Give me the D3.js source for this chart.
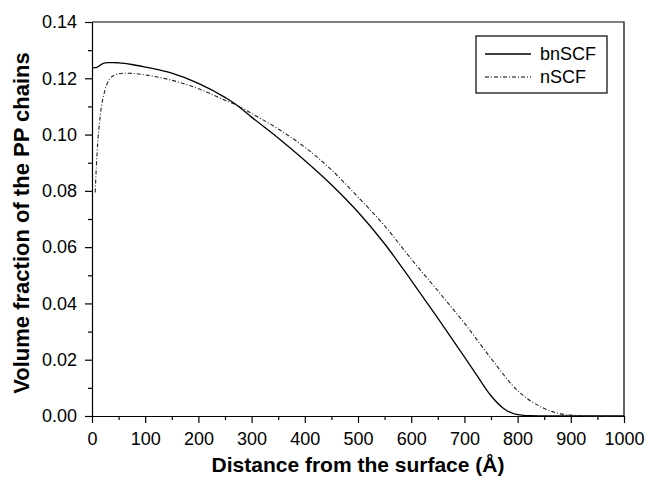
<!DOCTYPE html>
<html lang="en">
<head>
    <meta charset="UTF-8"/>
    <title>Volume fraction of the PP chains</title>
    <script src="https://d3js.org/d3.v7.min.js"></script>
    <style>
        body { margin: 0; background: #fff; }
        text { font-family: "Liberation Sans", Arial, sans-serif; }
    </style>
</head>
<body>
    <script>
        //chart values
        var bnX = [0, 5, 10, 15, 20, 25, 30, 40, 50, 75, 100, 150, 200, 250, 270, 300, 350, 400, 450, 500, 550, 600, 650, 700, 725, 750, 775, 800, 825, 850, 900, 950, 1000];
        var bnY = [0.1238, 0.1238, 0.1240, 0.1246, 0.1252, 0.1255, 0.1256, 0.1256, 0.1255, 0.1249, 0.1240, 0.1218, 0.1182, 0.1132, 0.1108, 0.1062, 0.0988, 0.0908, 0.0822, 0.0725, 0.0612, 0.0482, 0.0348, 0.0210, 0.0140, 0.0072, 0.0025, 0.0005, 0.0001, 0, 0, 0, 0];

        var nX = [6, 8, 11, 14, 17.5, 24, 33, 46, 62, 80, 100, 150, 200, 250, 270, 300, 350, 400, 450, 500, 550, 600, 650, 700, 750, 800, 850, 900, 950, 1000];
        var nY = [0.0794, 0.0880, 0.0977, 0.1040, 0.1096, 0.1155, 0.1197, 0.1214, 0.1218, 0.1217, 0.1212, 0.1193, 0.1163, 0.1122, 0.1106, 0.1075, 0.1020, 0.0955, 0.0875, 0.0778, 0.0676, 0.0558, 0.0445, 0.0330, 0.0205, 0.0090, 0.0027, 0.0003, 0, 0];

        var seriesNames = ["bnSCF", "nSCF"];
        var xTicks = [0, 100, 200, 300, 400, 500, 600, 700, 800, 900, 1000];
        var yTicks = [0.00, 0.02, 0.04, 0.06, 0.08, 0.10, 0.12, 0.14];

        //dimensions
        var w = 646;
        var h = 479;
        var pLeft = 92, pRight = 624, pTop = 22, pBottom = 416;

        var svg = d3.select("body")
            .append("svg")
            .attr("width", w)
            .attr("height", h);

        var xScale = d3.scaleLinear()
            .domain([0, 1000])
            .range([pLeft, pRight]);

        var yScale = d3.scaleLinear()
            .domain([0, 0.14])
            .range([pBottom, pTop]);

        //minor ticks
        var xMinor = d3.range(50, 1000, 100);
        var yMinor = d3.range(0.01, 0.14, 0.02);

        svg.append("g")
            .attr("transform", "translate(0," + pBottom + ")")
            .call(d3.axisBottom(xScale).tickValues(xMinor).tickSize(4).tickFormat(""))
            .call(function (g) { g.select(".domain").remove(); });

        svg.append("g")
            .attr("transform", "translate(" + pLeft + ",0)")
            .call(d3.axisLeft(yScale).tickValues(yMinor).tickSize(4).tickFormat(""))
            .call(function (g) { g.select(".domain").remove(); });

        //x-axis
        svg.append("g")
            .attr("transform", "translate(0," + pBottom + ")")
            .call(d3.axisBottom(xScale).tickValues(xTicks).tickSize(7).tickSizeOuter(0).tickPadding(9).tickFormat(d3.format("d")));

        //y-axis
        svg.append("g")
            .attr("transform", "translate(" + pLeft + ",0)")
            .call(d3.axisLeft(yScale).tickValues(yTicks).tickSize(7).tickSizeOuter(0).tickPadding(8).tickFormat(d3.format(".2f")));

        svg.selectAll("g text")
            .attr("font-size", "18px")
            .attr("fill", "#000")
            .style("font-family", "'Liberation Sans', Arial, sans-serif");

        svg.selectAll("g line, g path")
            .attr("stroke", "#000")
            .attr("stroke-width", 1.2);

        //frame top and right
        svg.append("path")
            .attr("d", "M" + pLeft + "," + pTop + "H" + pRight + "V" + pBottom)
            .attr("fill", "none")
            .attr("stroke", "#000")
            .attr("stroke-width", 1.2);

        //lines
        var line = d3.line()
            .x(function (d) { return xScale(d[0]); })
            .y(function (d) { return yScale(d[1]); })
            .curve(d3.curveMonotoneX);

        var bnData = d3.zip(bnX, bnY);
        var nData = d3.zip(nX, nY);

        svg.append("path")
            .datum(bnData)
            .attr("d", line)
            .attr("fill", "none")
            .attr("stroke", "#000")
            .attr("stroke-width", 1.3);

        svg.append("path")
            .datum(nData)
            .attr("d", line)
            .attr("fill", "none")
            .attr("stroke", "#222")
            .attr("stroke-width", 1.1)
            .attr("stroke-dasharray", "4,2,1,2");

        //legend
        var legend = svg.append("g");
        legend.append("rect")
            .attr("x", 476).attr("y", 36)
            .attr("width", 131).attr("height", 57)
            .attr("fill", "#fff")
            .attr("stroke", "#000")
            .attr("stroke-width", 1.2);

        var dashes = [null, "4,2,1,2"];
        seriesNames.forEach(function (name, i) {
            var yy = 54 + i * 23;
            legend.append("line")
                .attr("x1", 485).attr("x2", 531)
                .attr("y1", yy).attr("y2", yy)
                .attr("stroke", "#000")
                .attr("stroke-width", i == 0 ? 1.3 : 1.1)
                .attr("stroke-dasharray", dashes[i]);
            legend.append("text")
                .attr("x", 540).attr("y", yy + 6)
                .attr("font-size", "18px")
                .text(name);
        });

        // X axis label
        svg.append("text")
            .attr("text-anchor", "middle")
            .attr("x", 358)
            .attr("y", 472)
            .attr("font-size", "21px")
            .attr("font-weight", "bold")
            .text("Distance from the surface (Å)");

        // Y axis label
        svg.append("text")
            .attr("text-anchor", "middle")
            .attr("transform", "rotate(-90)")
            .attr("x", -223)
            .attr("y", 28.5)
            .attr("font-size", "22px")
            .attr("font-weight", "bold")
            .text("Volume fraction of the PP chains");
    </script>
</body>
</html>
